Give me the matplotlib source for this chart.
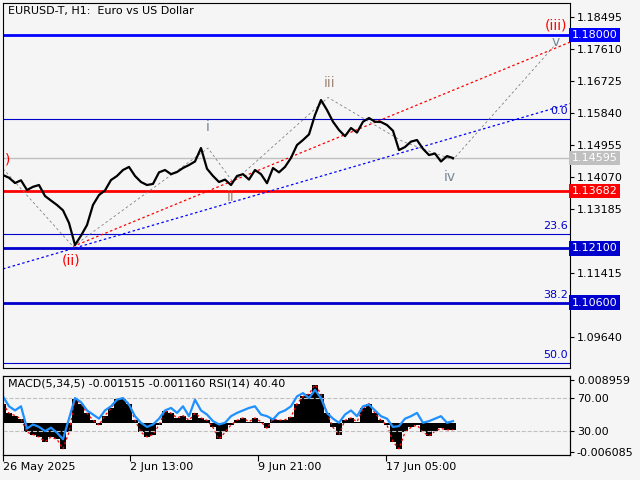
import numpy as np
import matplotlib
matplotlib.use('Agg')
import matplotlib.pyplot as plt

# hourly bars, sampled every 6 bars (bar index ~ pixel)
bars = list(range(0, 456, 6))
close = [1.14126, 1.14050, 1.13905, 1.13980, 1.13712, 1.13800, 1.13850, 1.13546, 1.13420,
         1.13297, 1.13150, 1.12800, 1.12191, 1.12450, 1.12744, 1.13300, 1.13573, 1.13700,
         1.13988, 1.14100, 1.14265, 1.14350, 1.14100, 1.13933, 1.13850, 1.13880, 1.14200,
         1.14265, 1.14150, 1.14209, 1.14320, 1.14403, 1.14500, 1.14873, 1.14300, 1.14100,
         1.13933, 1.14000, 1.13850, 1.14100, 1.14150, 1.14000, 1.14265, 1.14150, 1.13900,
         1.14320, 1.14200, 1.14350, 1.14600, 1.14956, 1.15094, 1.15250, 1.15785, 1.16200,
         1.15924, 1.15600, 1.15371, 1.15200, 1.15426, 1.15300, 1.15600, 1.15702, 1.15600,
         1.15592, 1.15509, 1.15350, 1.14817, 1.14900, 1.15050, 1.15094, 1.14850, 1.14679,
         1.14720, 1.14500, 1.14650, 1.14596]
rsi = [72, 60, 55, 60, 33, 38, 35, 30, 34, 28, 20, 45, 70, 65, 55, 50, 45, 55, 60, 68,
       70, 62, 48, 40, 35, 38, 45, 55, 58, 52, 60, 48, 68, 55, 50, 42, 38, 40, 48, 52,
       55, 58, 60, 50, 48, 44, 52, 55, 60, 72, 76, 70, 80, 70, 52, 45, 40, 50, 55, 48,
       60, 62, 55, 48, 45, 35, 36, 45, 48, 52, 40, 42, 45, 48, 40, 42]
macd = [0.004, 0.002, 0.0015, 0.0008, -0.002, -0.0025, -0.003, -0.004, -0.003, -0.0035,
        -0.0055, -0.002, 0.005, 0.004, 0.002, 0.0005, -0.0005, 0.0015, 0.003, 0.005,
        0.005, 0.004, 0.0005, -0.002, -0.003, -0.0025, -0.0005, 0.0025, 0.002, 0.001,
        0.0015, 0.0005, 0.002, 0.001, 0.0005, -0.001, -0.0035, -0.002, -0.0005, 0.0005,
        0.001, 0.0002, 0.001, 0.0002, -0.0012, 0.0008, 0.0005, 0.0006, 0.0012, 0.004,
        0.0055, 0.006, 0.008, 0.006, 0.002, -0.001, -0.0025, 0.0005, 0.001, 0.0002,
        0.003, 0.004, 0.002, 0.0005, -0.0005, -0.004, -0.0055, -0.002, -0.001, -0.0005,
        -0.002, -0.0028, -0.0018, -0.0012, -0.0015, -0.0015]

price_ticks = [1.18495, 1.17610, 1.16725, 1.15840, 1.14955, 1.14070, 1.13185,
               1.11415, 1.09640]
levels = [(1.18000, '#0000ff', 2.0, '1.18000'), (1.14595, '#c0c0c0', 1.0, '1.14595'),
          (1.13682, '#ff0000', 2.0, '1.13682'), (1.12100, '#0000cc', 2.0, '1.12100'),
          (1.10600, '#0000cc', 2.0, '1.10600')]
fib = [(1.15674, '0.0'), (1.12494, '23.6'), (1.10600, '38.2'), (1.08940, '50.0')]
date_pos = [0, 127, 255, 383]
date_lbl = ['26 May 2025', '2 Jun 13:00', '9 Jun 21:00', '17 Jun 05:00']

bg = '#f5f5f5'
fig = plt.figure(figsize=(6.4, 4.8), dpi=100, facecolor=bg)
ax = fig.add_axes([0.0047, 0.2333, 0.8859, 0.7604], facecolor=bg)
ax.set_xlim(0, 567)
ax.set_ylim(1.08790, 1.18882)

for y, lab in fib:
    ax.axhline(y, color='#0000cc', lw=0.8)
    ax.text(565, y + 0.0008, lab, color='#0000cc', fontsize=8, ha='right', va='bottom')
for y, c, w, lab in levels:
    ax.axhline(y, color=c, lw=w)

# trend lines and wave path
ax.plot([70, 567], [1.1215, 1.1780], color='red', ls=(0, (2, 2)), lw=0.9)
ax.plot([0, 567], [1.1153, 1.1610], color='blue', ls=(0, (2, 2)), lw=0.9)
ax.plot([0, 70, 205, 230, 325, 400, 450, 553],
        [1.1430, 1.1215, 1.1487, 1.1393, 1.1627, 1.1505, 1.1455, 1.1775],
        color='gray', ls=(0, (3, 3)), lw=0.6)

ax.plot(bars, close, color='black', lw=1.6)

wc = '#a08878'
ax.text(2, 1.1455, ')', color='red', fontsize=10, va='center')
ax.text(205, 1.1535, 'i', color='#778899', fontsize=10, ha='center')
ax.text(228, 1.1340, 'ii', color=wc, fontsize=10, ha='center')
ax.text(327, 1.1655, 'iii', color=wc, fontsize=10, ha='center')
ax.text(447, 1.1395, 'iv', color='#778899', fontsize=10, ha='center')
ax.text(68, 1.1165, '(ii)', color='red', fontsize=10, ha='center')
ax.text(553, 1.1815, '(iii)', color='red', fontsize=10, ha='center')
ax.text(553, 1.1770, 'v', color='#778899', fontsize=10, ha='center')
ax.text(5, 1.1865, 'EURUSD-T, H1:  Euro vs US Dollar', fontsize=8, va='center')

ax.set_xticks([])
ax.yaxis.tick_right()
ax.set_yticks(price_ticks)
ax.set_yticklabels(['%.5f' % t for t in price_ticks], fontsize=8)
ax.tick_params(axis='y', length=3, pad=2)
for y, c, w, lab in levels:
    ax.text(1.003, y, lab, transform=ax.get_yaxis_transform(), fontsize=8,
            color='white', va='center', ha='left',
            bbox=dict(boxstyle='square,pad=0.2', fc=c, ec='none'))

# MACD / RSI panel
ax2 = fig.add_axes([0.0047, 0.052, 0.8859, 0.1646], facecolor=bg)
ax3 = ax2.twinx()
ax2.set_xlim(0, 567)
ax2.set_ylim(-0.0068, 0.0098)
ax2.bar(bars, macd, width=6, color='black')
ax2.plot(bars, macd, color='red', ls=(0, (2, 2)), lw=0.9)
ax2.yaxis.tick_right()
ax2.set_yticks([0.008959, -0.006085])
ax2.set_yticklabels(['0.008959', '-0.006085'], fontsize=8)
ax2.tick_params(axis='y', length=3, pad=2)
ax2.set_xticks(date_pos)
ax2.set_xticklabels(date_lbl, fontsize=8, ha='left')
ax2.tick_params(axis='x', length=4, pad=1)
ax3.set_ylim(0.9, 96.7)
ax3.axhline(70, color='#c0c0c0', ls='--', lw=0.8)
ax3.axhline(30, color='#c0c0c0', ls='--', lw=0.8)
ax3.plot(bars, rsi, color='#1e90ff', lw=1.6)
ax3.set_yticks([70, 30])
ax3.set_yticklabels(['70.00', '30.00'], fontsize=8)
ax3.tick_params(axis='y', length=3, pad=2)
ax2.text(5, 0.0082, 'MACD(5,34,5) -0.001515 -0.001160 RSI(14) 40.40', fontsize=8, va='center')

fig.savefig('out.png', dpi=100, facecolor=bg)
